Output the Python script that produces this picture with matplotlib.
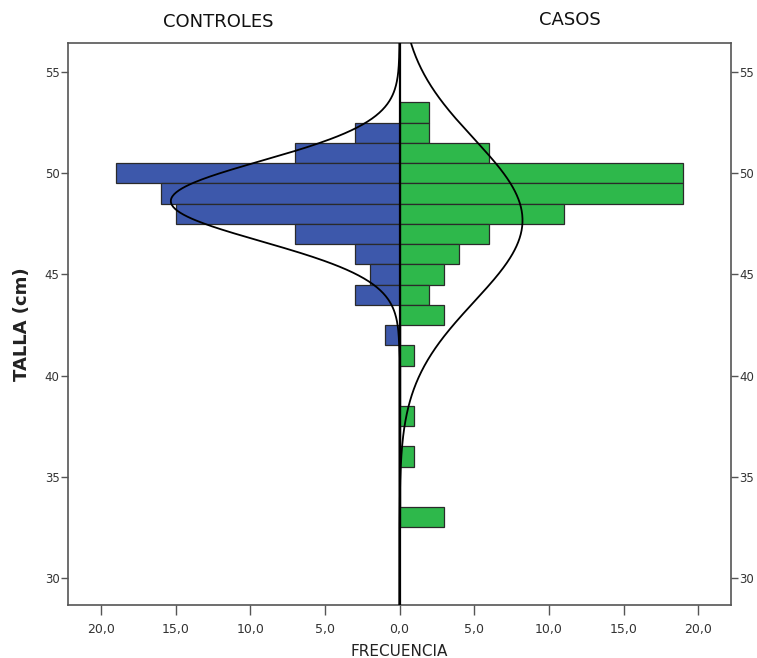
import numpy as np
import matplotlib
matplotlib.use('Agg')
import matplotlib.pyplot as plt

# TALLA bins (cm), 1 cm wide, centred on whole numbers
talla = [53, 52, 51, 50, 49, 48, 47, 46, 45, 44, 43, 42, 41, 40, 39, 38, 37, 36, 35, 34, 33]
controles = [0, 3, 7, 19, 16, 15, 7, 3, 2, 3, 0, 1, 0, 0, 0, 0, 0, 0, 0, 0, 0]
casos = [2, 2, 6, 19, 19, 11, 6, 4, 3, 2, 3, 0, 1, 0, 0, 1, 0, 1, 0, 0, 3]

# normal curve parameters (mean, sd)
ctrl_mean, ctrl_sd = 48.62, 1.98
caso_mean, caso_sd = 47.67, 4.02

x_ticks = [-20, -15, -10, -5, 0, 5, 10, 15, 20]
x_ticklabels = ['20,0', '15,0', '10,0', '5,0', '0,0', '5,0', '10,0', '15,0', '20,0']
y_ticks = [30, 35, 40, 45, 50, 55]

BLUE = '#3d58ab'
GREEN = '#2eb84b'
EDGE = '#2a2a2a'
GREY = '#555555'

fig = plt.figure(figsize=(7.57, 6.58), dpi=100)
ax = fig.add_axes([0.0898, 0.0805, 0.8759, 0.8542])

ax.barh(talla, [-c for c in controles], height=1.0, color=BLUE,
        edgecolor=EDGE, linewidth=0.9, zorder=2)
ax.barh(talla, casos, height=1.0, color=GREEN,
        edgecolor=EDGE, linewidth=0.9, zorder=2)

# fitted normal curves, scaled to counts (bin width 1)
yy = np.linspace(28.0, 57.0, 600)
n_ctrl = sum(controles)
n_caso = sum(casos)
pdf_ctrl = n_ctrl * np.exp(-0.5 * ((yy - ctrl_mean) / ctrl_sd) ** 2) / (ctrl_sd * np.sqrt(2 * np.pi))
pdf_caso = n_caso * np.exp(-0.5 * ((yy - caso_mean) / caso_sd) ** 2) / (caso_sd * np.sqrt(2 * np.pi))
ax.plot(-pdf_ctrl, yy, color='black', linewidth=1.3, zorder=3)
ax.plot(pdf_caso, yy, color='black', linewidth=1.3, zorder=3)

ax.axvline(0, color='black', linewidth=1.6, zorder=4)

ax.set_xlim(-22.2, 22.2)
ax.set_ylim(28.67, 56.43)

ax.set_xticks(x_ticks)
ax.set_xticklabels(x_ticklabels)
ax.set_yticks(y_ticks)
ax.tick_params(axis='both', direction='out', width=1.0,
               color=GREY, labelcolor='#333333', labelsize=9)
ax.tick_params(axis='y', left=True, right=True, labelleft=True, labelright=True,
               length=5, pad=1, labelsize=8.5)
ax.tick_params(axis='x', length=7, pad=6)

for sp in ax.spines.values():
    sp.set_color(GREY)
    sp.set_linewidth(1.2)

ax.set_xlabel('FRECUENCIA', fontsize=11, color='#222222', labelpad=6)
ax.set_ylabel('TALLA (cm)', fontsize=13, fontweight='bold', color='#222222', labelpad=10)

fig.text(218 / 757, 1 - 22 / 658, 'CONTROLES', ha='center', va='center', fontsize=13, color='#111111')
fig.text(570 / 757, 1 - 20 / 658, 'CASOS', ha='center', va='center', fontsize=13, color='#111111')

fig.savefig('out.png', dpi=100)
